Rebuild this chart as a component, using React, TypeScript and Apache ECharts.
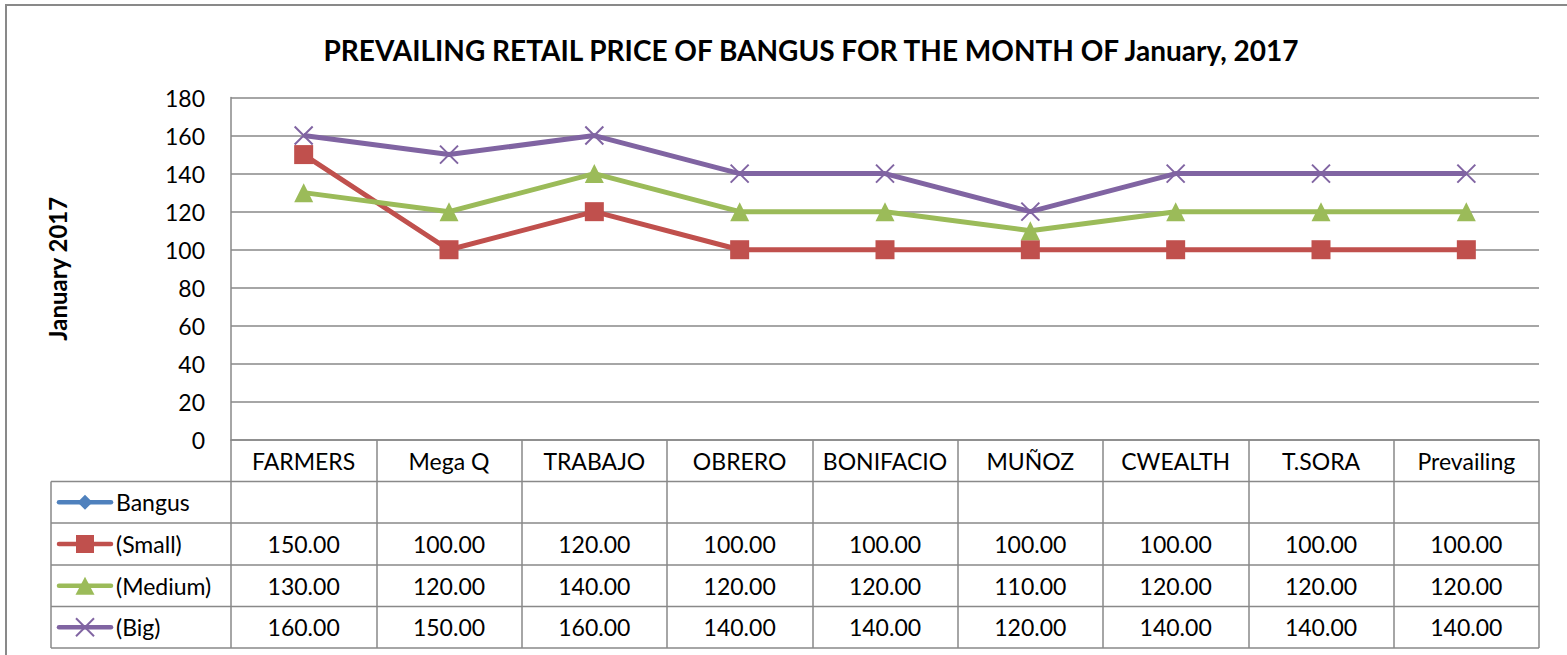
import React, { useEffect, useRef } from 'react';
import * as echarts from 'echarts';

const categories = ['FARMERS', 'Mega Q', 'TRABAJO', 'OBRERO', 'BONIFACIO', 'MUÑOZ', 'CWEALTH', 'T.SORA', 'Prevailing'];
const seriesNames = ['Bangus', '(Small)', '(Medium)', '(Big)'];
const bangus: (number | null)[] = [null, null, null, null, null, null, null, null, null];
const small = [150, 100, 120, 100, 100, 100, 100, 100, 100];
const medium = [130, 120, 140, 120, 120, 110, 120, 120, 120];
const big = [160, 150, 160, 140, 140, 120, 140, 140, 140];
const yMin = 0;
const yMax = 180;
const yStep = 20;
const titleText = 'PREVAILING RETAIL PRICE OF BANGUS FOR THE MONTH OF January, 2017';
const yAxisName = 'January 2017';

const FONT = 'Lato, "Open Sans", sans-serif';
const GRAY = '#898989';
const COLORS = ['#4F81BD', '#C0504D', '#9BBB59', '#8064A2'];
const SYMBOLS = ['diamond', 'rect', 'triangle', 'path://M0,0L10,10M10,0L0,10'];
const FS = 23;

export default function App() {
  const ref = useRef<HTMLDivElement>(null);
  useEffect(() => {
    const chart = echarts.init(ref.current!, null, { renderer: 'svg' });
    const gLeft = 231, gRight = 1539, gTop = 97.5, gBottom = 440;
    const tableLeft = 51;
    const rowLines = [481.5, 523, 565, 606.5, 648];
    const allData = [bangus, small, medium, big];

    const series = allData.map((d, i) => ({
      name: seriesNames[i],
      type: 'line',
      data: d,
      symbol: SYMBOLS[i],
      symbolSize: i === 3 ? 18 : 19,
      showSymbol: true,
      lineStyle: { width: 5, color: COLORS[i] },
      itemStyle: i === 3
        ? { color: COLORS[i], borderColor: COLORS[i], borderWidth: 2 }
        : { color: COLORS[i] },
      emphasis: { disabled: true },
      z: 3 + i,
    }));

    chart.setOption({
      animation: false,
      backgroundColor: '#ffffff',
      title: {
        text: titleText,
        left: 806,
        textAlign: 'center',
        top: 31,
        textStyle: { fontFamily: FONT, fontWeight: 'bold', fontSize: 28, color: '#000' },
      },
      grid: { left: gLeft, top: gTop, width: gRight - gLeft, height: gBottom - gTop, containLabel: false },
      xAxis: {
        type: 'category',
        data: categories,
        boundaryGap: true,
        axisLine: { show: true, lineStyle: { color: GRAY, width: 1.5 } },
        axisTick: { show: true, length: 208, interval: 0, lineStyle: { color: GRAY, width: 1.5 } },
        axisLabel: {
          interval: 0,
          margin: 21,
          verticalAlign: 'middle',
          fontFamily: FONT,
          fontSize: FS,
          color: '#000',
        },
        splitLine: { show: false },
      },
      yAxis: {
        type: 'value',
        min: yMin,
        max: yMax,
        interval: yStep,
        name: yAxisName,
        nameLocation: 'middle',
        nameGap: 162,
        nameRotate: 90,
        nameTextStyle: { fontFamily: FONT, fontWeight: 'bold', fontSize: 24, color: '#000' },
        axisLine: { show: true, lineStyle: { color: GRAY, width: 1.5 } },
        axisTick: { show: false },
        axisLabel: { margin: 26, fontFamily: FONT, fontSize: FS, color: '#000' },
        splitLine: { show: true, lineStyle: { color: GRAY, width: 1.5 } },
      },
      series,
    });

    const colX = categories.map((_, i) => chart.convertToPixel({ xAxisIndex: 0 }, i) as number);
    const graphics: any[] = [];
    graphics.push({
      type: 'polyline',
      shape: { points: [[6, 655], [6, 5], [1567, 5]] },
      style: { stroke: GRAY, lineWidth: 2, fill: 'none' },
      silent: true,
    });
    rowLines.forEach((y) => {
      graphics.push({
        type: 'line',
        shape: { x1: tableLeft, y1: y, x2: gRight, y2: y },
        style: { stroke: GRAY, lineWidth: 1.5 },
        silent: true,
      });
    });
    graphics.push({
      type: 'line',
      shape: { x1: tableLeft, y1: rowLines[0], x2: tableLeft, y2: rowLines[rowLines.length - 1] },
      style: { stroke: GRAY, lineWidth: 1.5 },
      silent: true,
    });
    allData.forEach((d, r) => {
      const cy = (rowLines[r] + rowLines[r + 1]) / 2;
      const c = COLORS[r];
      graphics.push({
        type: 'line',
        shape: { x1: 59, y1: cy, x2: 111, y2: cy },
        style: { stroke: c, lineWidth: 4.5, lineCap: 'round' },
        silent: true,
      });
      const sx = 85;
      if (r === 0) {
        graphics.push({
          type: 'polygon',
          shape: { points: [[sx, cy - 7.5], [sx + 7.5, cy], [sx, cy + 7.5], [sx - 7.5, cy]] },
          style: { fill: c },
          silent: true,
        });
      } else if (r === 1) {
        graphics.push({
          type: 'rect',
          shape: { x: sx - 9, y: cy - 9, width: 18, height: 18 },
          style: { fill: c },
          silent: true,
        });
      } else if (r === 2) {
        graphics.push({
          type: 'polygon',
          shape: { points: [[sx, cy - 9], [sx + 9.5, cy + 9], [sx - 9.5, cy + 9]] },
          style: { fill: c },
          silent: true,
        });
      } else {
        graphics.push({
          type: 'line',
          shape: { x1: sx - 9, y1: cy - 9, x2: sx + 9, y2: cy + 9 },
          style: { stroke: c, lineWidth: 2 },
          silent: true,
        });
        graphics.push({
          type: 'line',
          shape: { x1: sx + 9, y1: cy - 9, x2: sx - 9, y2: cy + 9 },
          style: { stroke: c, lineWidth: 2 },
          silent: true,
        });
      }
      graphics.push({
        type: 'text',
        x: 116,
        y: cy,
        style: {
          text: seriesNames[r],
          fontFamily: FONT,
          fontSize: FS,
          fill: '#000',
          align: 'left',
          verticalAlign: 'middle',
        },
        silent: true,
      });
      d.forEach((v, i) => {
        if (v === null || v === undefined) return;
        graphics.push({
          type: 'text',
          x: colX[i],
          y: cy,
          style: {
            text: (v as number).toFixed(2),
            fontFamily: FONT,
            fontSize: FS,
            fill: '#000',
            align: 'center',
            verticalAlign: 'middle',
          },
          silent: true,
        });
      });
    });
    chart.setOption({ graphic: graphics });

    return () => chart.dispose();
  }, []);
  return (
    <div
      ref={ref}
      style={{ position: 'fixed', left: 0, top: 0, width: 1567, height: 655, background: '#fff' }}
    />
  );
}
